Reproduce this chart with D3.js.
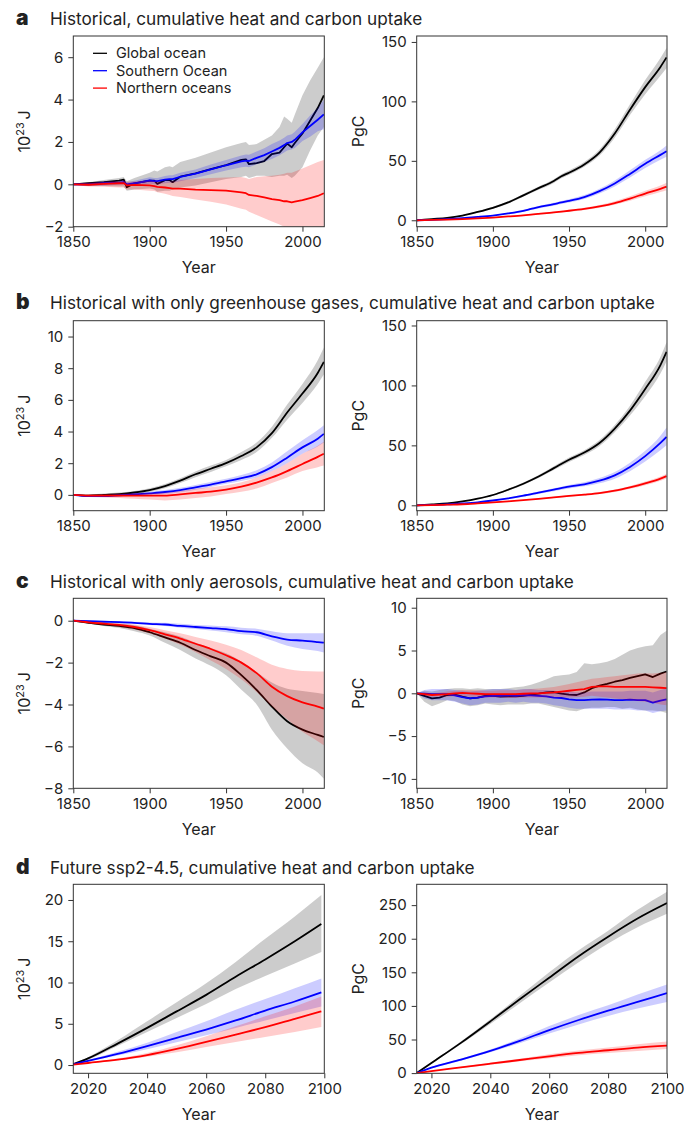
<!DOCTYPE html>
<html>
<head>
<meta charset="utf-8">
<script src="https://cdn.jsdelivr.net/npm/d3@7/dist/d3.min.js"></script>
<style>
  body { margin: 0; background: #fff; }
  svg text { font-family: Inter, "Noto Sans", sans-serif; fill: #222; }
  .tick line { stroke: #333; }
</style>
</head>
<body>
<div id="plot"></div>
<script>
// ---------------- a: historical ----------------
const aHeatYears = [1850,1860,1870,1880,1883,1885,1890,1900,1903,1905,1910,1913,1915,1920,1930,1940,1950,1960,1963,1965,1970,1975,1980,1985,1988,1990,1993,1995,2000,2005,2010,2014];
const aHeatGlobal   = [0,0.05,0.1,0.17,0.22,-0.14,0.05,0.17,0.17,0.02,0.2,0.2,0.1,0.36,0.52,0.72,0.91,1.15,1.18,0.95,1.0,1.1,1.43,1.5,1.75,1.92,1.75,1.95,2.4,3.0,3.6,4.2];
const aHeatGlobalLo = [-0.03,-0.08,-0.08,-0.1,-0.1,-0.3,-0.25,-0.2,-0.25,-0.35,-0.3,-0.3,-0.25,-0.15,-0.05,0.1,0.25,0.35,0.4,0.3,0.4,0.4,0.35,0.4,0.4,0.45,0.3,0.4,0.8,1.6,2.3,2.7];
const aHeatGlobalHi = [0.03,0.1,0.2,0.3,0.35,0.15,0.3,0.55,0.65,0.6,0.8,0.85,0.8,1.05,1.25,1.5,1.75,1.95,2.0,1.85,1.9,2.1,2.3,2.7,3.2,3.1,2.9,3.3,4.2,4.9,5.5,6.0];
const aHeatSouth    = [0,0,0.05,0.08,0.1,0,0.05,0.18,0.15,0.15,0.22,0.25,0.25,0.35,0.5,0.7,0.9,1.08,1.12,1.1,1.25,1.38,1.55,1.72,1.85,1.95,2.0,2.1,2.45,2.75,3.05,3.3];
const aHeatSouthLo  = [-0.05,-0.08,-0.05,-0.02,0,-0.1,-0.07,0.03,0,0,0.05,0.07,0.07,0.15,0.3,0.47,0.65,0.8,0.83,0.8,0.95,1.06,1.2,1.37,1.5,1.6,1.64,1.72,2.05,2.25,2.5,2.6];
const aHeatSouthHi  = [0.05,0.08,0.15,0.18,0.2,0.1,0.17,0.33,0.3,0.3,0.39,0.43,0.43,0.55,0.7,0.93,1.15,1.36,1.41,1.4,1.55,1.7,1.9,2.07,2.2,2.3,2.36,2.48,2.85,3.25,3.6,4.0];
const aHeatNorth    = [0,-0.02,0.02,0.05,0.06,-0.05,-0.03,-0.05,-0.08,-0.12,-0.15,-0.18,-0.2,-0.2,-0.25,-0.27,-0.3,-0.38,-0.42,-0.5,-0.55,-0.62,-0.7,-0.75,-0.8,-0.8,-0.85,-0.82,-0.75,-0.65,-0.55,-0.42];
const aHeatNorthLo  = [-0.03,-0.1,-0.12,-0.15,-0.15,-0.25,-0.25,-0.3,-0.32,-0.38,-0.45,-0.5,-0.55,-0.6,-0.72,-0.82,-0.95,-1.15,-1.2,-1.3,-1.45,-1.6,-1.75,-1.9,-2.0,-2.1,-2.2,-2.3,-2.4,-2.5,-2.6,-2.7];
const aHeatNorthHi  = [0.03,0.08,0.12,0.15,0.18,0.12,0.15,0.18,0.15,0.12,0.12,0.15,0.15,0.2,0.25,0.3,0.32,0.35,0.3,0.25,0.35,0.38,0.4,0.45,0.5,0.55,0.55,0.6,0.75,0.9,1.05,1.15];

const aCarbYears = [1850,1860,1870,1880,1890,1900,1910,1920,1925,1930,1940,1945,1950,1960,1970,1980,1990,2000,2010,2014];
const aCarbGlobal   = [0,1,2,4,7,10.5,15,21,24,27,33,37,40,47,57,73,93,112,129,137];
const aCarbGlobalLo = [0,0.8,1.7,3.5,6.3,9.7,14,19.8,22.7,25.6,31.4,35.3,38.2,45,54.5,69.5,88.5,106,121.5,128];
const aCarbGlobalHi = [0,1.2,2.3,4.5,7.7,11.3,16,22.2,25.3,28.4,34.6,38.7,41.8,49,59.5,76.5,97.5,118,136.5,145];
const aCarbSouth    = [0,0.4,1,1.8,2.8,4,5.8,8,9.5,11,13.5,15,16.3,19.5,24.5,31,39,47.5,55,58];
const aCarbSouthLo  = [0,0.3,0.8,1.5,2.4,3.5,5.2,7.2,8.6,10,12.3,13.7,14.9,17.8,22.5,28.5,36,44,51,53.5];
const aCarbSouthHi  = [0,0.5,1.2,2.1,3.2,4.5,6.4,8.8,10.4,12,14.7,16.3,17.7,21.2,26.5,33.5,42,51,59,63];
const aCarbNorth    = [0,0.3,0.6,1,1.6,2.3,3.2,4.2,4.8,5.4,6.6,7.3,8,9.6,11.7,14.5,18.3,22.5,26.5,28.3];
const aCarbNorthLo  = [0,0.25,0.5,0.9,1.4,2.05,2.9,3.8,4.3,4.9,6,6.6,7.2,8.6,10.5,13,16.4,20.2,23.8,25.3];
const aCarbNorthHi  = [0,0.35,0.7,1.1,1.8,2.55,3.5,4.6,5.3,5.9,7.2,8,8.8,10.6,12.9,16,20.2,24.8,29.2,31.5];

// ---------------- b: greenhouse gases only ----------------
const bYears = [1850,1860,1870,1880,1890,1900,1910,1920,1930,1940,1950,1960,1970,1980,1990,2000,2010,2014];
const bHeatGlobal   = [0,-0.05,0,0.05,0.15,0.3,0.55,0.9,1.3,1.65,2.0,2.45,3.0,3.9,5.2,6.4,7.7,8.4];
const bHeatGlobalLo = [0,-0.12,-0.1,-0.05,0.05,0.2,0.42,0.75,1.12,1.45,1.8,2.2,2.7,3.6,4.75,5.8,7.0,7.6];
const bHeatGlobalHi = [0,0.02,0.08,0.15,0.25,0.42,0.68,1.05,1.48,1.85,2.2,2.7,3.3,4.3,5.7,7.0,8.5,9.3];
const bHeatSouth    = [0,-0.08,-0.08,-0.03,0.03,0.1,0.18,0.3,0.48,0.65,0.85,1.05,1.3,1.75,2.35,3.0,3.55,3.85];
const bHeatSouthLo  = [0,-0.13,-0.15,-0.1,-0.05,0,0.06,0.16,0.33,0.5,0.7,0.88,1.1,1.5,2.0,2.6,3.05,3.3];
const bHeatSouthHi  = [0,-0.03,0,0.05,0.11,0.2,0.3,0.45,0.63,0.82,1.02,1.25,1.55,2.05,2.75,3.45,4.1,4.4];
const bHeatNorth    = [0,-0.05,-0.05,-0.05,-0.05,-0.05,-0.05,0.03,0.12,0.2,0.33,0.52,0.78,1.1,1.5,1.95,2.4,2.6];
const bHeatNorthLo  = [0,-0.12,-0.15,-0.2,-0.25,-0.3,-0.35,-0.3,-0.2,-0.1,0.05,0.2,0.4,0.75,1.1,1.5,1.75,1.85];
const bHeatNorthHi  = [0,0.02,0.05,0.08,0.1,0.12,0.15,0.25,0.38,0.48,0.6,0.8,1.1,1.5,2.0,2.6,3.1,3.35];

const bCarbGlobal   = [0,0.7,1.5,3.2,5.5,8.6,13,18,24,31,38,44,52,64,79,97,117,128];
const bCarbGlobalLo = [0,0.6,1.3,2.9,5.1,8,12.2,17,22.8,29.5,36.2,42,49.5,61,75,91,110,120];
const bCarbGlobalHi = [0,0.8,1.7,3.5,5.9,9.2,13.8,19,25.2,32.5,39.8,46,54.5,67,83,103,124,136];
const bCarbSouth    = [0,0.3,0.7,1.5,2.5,4,5.8,8,10.5,13,15.5,17.5,20.5,25,32,41,52,57];
const bCarbSouthLo  = [0,0.25,0.6,1.3,2.2,3.6,5.2,7.2,9.5,11.8,14,15.8,18.3,22.2,28.5,36.5,46,50];
const bCarbSouthHi  = [0,0.35,0.8,1.7,2.8,4.4,6.4,8.8,11.5,14.2,17,19.2,22.7,27.8,35.5,45.5,58,65];
const bCarbNorth    = [0,0.2,0.5,0.9,1.6,2.4,3.3,4.3,5.4,6.6,7.8,8.9,10.2,12.2,15,18.3,22.3,24.4];
const bCarbNorthLo  = [0,0.18,0.45,0.83,1.5,2.2,3.05,4,5,6.1,7.2,8.2,9.4,11.2,13.8,16.8,20.5,22.4];
const bCarbNorthHi  = [0,0.22,0.55,0.97,1.75,2.6,3.55,4.65,5.8,7.1,8.4,9.6,11,13.2,16.2,19.8,24.1,26.4];

// ---------------- c: aerosols only ----------------
const cHeatYears = bYears;
const cHeatGlobal   = [0,-0.1,-0.18,-0.25,-0.35,-0.55,-0.8,-1.05,-1.4,-1.7,-2.0,-2.6,-3.3,-4.1,-4.8,-5.2,-5.45,-5.55];
const cHeatGlobalLo = [0,-0.15,-0.25,-0.35,-0.5,-0.7,-1.05,-1.4,-1.8,-2.15,-2.6,-3.3,-4.0,-5.2,-6.1,-6.8,-7.25,-7.55];
const cHeatGlobalHi = [0,-0.05,-0.1,-0.15,-0.22,-0.38,-0.55,-0.75,-1.05,-1.3,-1.55,-1.95,-2.45,-2.95,-3.25,-3.35,-3.45,-3.5];
const cHeatSouth    = [0,-0.02,-0.05,-0.07,-0.1,-0.15,-0.18,-0.25,-0.3,-0.35,-0.4,-0.5,-0.55,-0.75,-0.9,-0.95,-1.02,-1.05];
const cHeatSouthLo  = [0,-0.05,-0.08,-0.12,-0.15,-0.2,-0.25,-0.33,-0.4,-0.47,-0.55,-0.65,-0.72,-0.95,-1.2,-1.35,-1.45,-1.52];
const cHeatSouthHi  = [0,0.01,-0.02,-0.03,-0.05,-0.08,-0.1,-0.15,-0.2,-0.23,-0.27,-0.33,-0.38,-0.5,-0.6,-0.6,-0.6,-0.6];
const cHeatNorth    = [0,-0.08,-0.14,-0.2,-0.3,-0.45,-0.65,-0.85,-1.1,-1.35,-1.65,-2.0,-2.5,-3.15,-3.6,-3.9,-4.1,-4.2];
const cHeatNorthLo  = [0,-0.12,-0.2,-0.3,-0.42,-0.6,-0.85,-1.15,-1.5,-1.9,-2.3,-2.8,-3.4,-4.1,-4.7,-5.3,-5.75,-5.95];
const cHeatNorthHi  = [0,-0.04,-0.08,-0.12,-0.18,-0.3,-0.45,-0.6,-0.78,-0.95,-1.15,-1.4,-1.75,-2.1,-2.3,-2.4,-2.42,-2.42];

const cCarbYears = [1850,1855,1860,1865,1870,1875,1880,1885,1890,1895,1900,1905,1910,1915,1920,1925,1930,1935,1940,1945,1950,1955,1960,1965,1970,1975,1980,1985,1990,1995,2000,2005,2010,2014];
const cCarbGlobal   = [0,-0.3,-0.6,-0.5,-0.2,-0.15,-0.4,-0.6,-0.5,-0.3,-0.3,-0.4,-0.35,-0.35,-0.3,-0.15,-0.05,0.1,0.15,-0.05,-0.15,-0.2,0.1,0.6,0.9,1.1,1.35,1.55,1.8,2.0,2.2,1.9,2.3,2.55];
const cCarbGlobalLo = [0,-1.0,-1.5,-1.2,-0.8,-0.9,-1.3,-1.5,-1.4,-1.2,-1.3,-1.4,-1.3,-1.3,-1.3,-1.2,-1.2,-1.4,-1.6,-1.8,-2.0,-2.1,-1.8,-1.7,-1.7,-1.6,-1.6,-1.8,-1.7,-1.9,-2.0,-2.0,-2.1,-2.3];
const cCarbGlobalHi = [0,0.3,0.2,0.4,0.5,0.6,0.6,0.5,0.6,0.5,0.5,0.5,0.6,0.7,0.8,1.0,1.3,1.6,2.0,2.1,2.2,2.5,3.5,3.4,3.5,3.7,4.0,4.5,5.0,5.3,5.5,5.6,6.8,7.3];
const cCarbSouth    = [0,-0.05,-0.1,-0.1,-0.1,-0.25,-0.45,-0.6,-0.5,-0.35,-0.3,-0.3,-0.25,-0.3,-0.2,-0.25,-0.3,-0.35,-0.5,-0.55,-0.7,-0.8,-0.8,-0.75,-0.7,-0.75,-0.8,-0.8,-0.75,-0.8,-0.8,-1.1,-0.85,-0.7];
const cCarbSouthLo  = [0,-0.6,-0.8,-0.8,-0.8,-1.0,-1.2,-1.4,-1.3,-1.1,-1.1,-1.1,-1.0,-1.1,-1.0,-1.1,-1.1,-1.2,-1.4,-1.5,-1.7,-1.8,-1.8,-1.8,-1.8,-1.8,-1.9,-1.9,-1.9,-2.0,-2.0,-2.3,-2.1,-2.0];
const cCarbSouthHi  = [0,0.4,0.5,0.5,0.5,0.4,0.3,0.2,0.3,0.4,0.5,0.5,0.5,0.4,0.5,0.5,0.4,0.4,0.3,0.2,0.2,0.1,0.1,0.2,0.2,0.2,0.2,0.2,0.3,0.3,0.3,0.1,0.4,0.6];
const cCarbNorth    = [0,-0.1,-0.2,-0.15,-0.1,0,0.05,0,-0.05,-0.1,-0.1,-0.1,-0.1,-0.1,-0.05,0,0,0.05,0.1,0.2,0.3,0.4,0.5,0.75,0.8,0.8,0.75,0.75,0.75,0.75,0.75,0.7,0.65,0.6];
const cCarbNorthLo  = [0,-0.3,-0.4,-0.4,-0.4,-0.35,-0.35,-0.4,-0.45,-0.5,-0.5,-0.5,-0.55,-0.55,-0.5,-0.5,-0.5,-0.5,-0.5,-0.5,-0.5,-0.45,-0.4,-0.3,-0.4,-0.5,-0.6,-0.7,-0.8,-0.9,-1.0,-1.1,-1.3,-1.4];
const cCarbNorthHi  = [0,0.1,0,0.1,0.2,0.3,0.4,0.4,0.35,0.3,0.3,0.35,0.35,0.4,0.45,0.5,0.55,0.65,0.75,0.9,1.1,1.3,1.5,1.7,1.8,1.9,2.0,2.1,2.2,2.3,2.35,2.3,2.4,2.5];

// ---------------- d: future ssp2-4.5 ----------------
const dHeatYears = [2015,2020,2030,2040,2050,2060,2070,2080,2090,2099];
const dHeatGlobal   = [0.1,0.8,2.6,4.5,6.5,8.5,10.7,12.8,15.0,17.1];
const dHeatGlobalLo = [0.1,0.65,2.3,4.0,5.7,7.4,9.2,10.8,12.3,13.7];
const dHeatGlobalHi = [0.1,0.95,3.0,5.3,7.6,9.9,12.5,15.3,18.0,20.6];
const dHeatSouth    = [0.1,0.5,1.35,2.3,3.3,4.3,5.4,6.6,7.7,8.8];
const dHeatSouthLo  = [0.1,0.45,1.15,1.9,2.75,3.6,4.5,5.4,6.3,7.1];
const dHeatSouthHi  = [0.1,0.6,1.6,2.7,4.0,5.3,6.7,8.0,9.3,10.5];
const dHeatNorth    = [0.05,0.25,0.65,1.2,1.95,2.8,3.7,4.6,5.6,6.5];
const dHeatNorthLo  = [0.05,0.2,0.55,1.0,1.55,2.2,2.8,3.4,4.0,4.6];
const dHeatNorthHi  = [0.05,0.3,0.8,1.45,2.4,3.5,4.7,5.9,7.1,8.3];

const dCarbYears = [2015,2020,2030,2040,2050,2060,2070,2080,2090,2100];
const dCarbGlobal   = [0,15,45,77,110,142,174,203,230,253];
const dCarbGlobalLo = [0,14,43,73,104,135,165,193,217,237];
const dCarbGlobalHi = [0,16,47,80,115,150,183,212,243,270];
const dCarbSouth    = [0,8,20,33,48,64,79,93,106,119];
const dCarbSouthLo  = [0,7,18.5,31,44.5,59,72.5,85,96,106];
const dCarbSouthHi  = [0,9,21.5,35,51.5,70,86.5,101,117,132];
const dCarbNorth    = [0,3,8.5,14,19.5,25,30,34,38,41];
const dCarbNorthLo  = [0,2.5,7.5,12.5,17.5,22,26.5,30,33,36];
const dCarbNorthHi  = [0,3.5,9.5,15.5,21.5,28,33.5,38,43,47];

// ---------------- labels / ticks ----------------
const seriesNames = ["Global ocean", "Southern Ocean", "Northern oceans"];
const seriesColors = ["#000000", "#0000ff", "#ff0000"];
const rowLetters = ["a", "b", "c", "d"];
const rowTitles = [
  "Historical, cumulative heat and carbon uptake",
  "Historical with only greenhouse gases, cumulative heat and carbon uptake",
  "Historical with only aerosols, cumulative heat and carbon uptake",
  "Future ssp2-4.5, cumulative heat and carbon uptake"
];
const histYearTicks = [1850, 1900, 1950, 2000];
const futYearTicks = [2020, 2040, 2060, 2080, 2100];

const w = 698;
const h = 1124;
const colX = [[73.3, 324.3], [416.7, 667]];
const rowY = [[36, 226.7], [320.7, 510.7], [598.3, 788.3], [884.3, 1073.3]];
const titleY = [25, 309, 588, 874];

function pack(years, m0, l0, h0, m1, l1, h1, m2, l2, h2) {
  return [[m0, l0, h0], [m1, l1, h1], [m2, l2, h2]].map((s, i) => ({
    color: seriesColors[i],
    rows: years.map((yr, j) => ({ yr: yr, v: s[0][j], lo: s[1][j], hi: s[2][j] }))
  }));
}

const panels = [
  { row: 0, col: 0, xDom: [1850, 2014.3], yDom: [-2, 7], yTicks: [-2, 0, 2, 4, 6], heat: true, legend: true, jagged: true,
    series: pack(aHeatYears, aHeatGlobal, aHeatGlobalLo, aHeatGlobalHi, aHeatSouth, aHeatSouthLo, aHeatSouthHi, aHeatNorth, aHeatNorthLo, aHeatNorthHi) },
  { row: 0, col: 1, xDom: [1850, 2014.3], yDom: [-5.4, 155], yTicks: [0, 50, 100, 150],
    series: pack(aCarbYears, aCarbGlobal, aCarbGlobalLo, aCarbGlobalHi, aCarbSouth, aCarbSouthLo, aCarbSouthHi, aCarbNorth, aCarbNorthLo, aCarbNorthHi) },
  { row: 1, col: 0, xDom: [1850, 2014.3], yDom: [-1, 11], yTicks: [0, 2, 4, 6, 8, 10], heat: true,
    series: pack(bYears, bHeatGlobal, bHeatGlobalLo, bHeatGlobalHi, bHeatSouth, bHeatSouthLo, bHeatSouthHi, bHeatNorth, bHeatNorthLo, bHeatNorthHi) },
  { row: 1, col: 1, xDom: [1850, 2014.3], yDom: [-4.5, 154], yTicks: [0, 50, 100, 150],
    series: pack(bYears, bCarbGlobal, bCarbGlobalLo, bCarbGlobalHi, bCarbSouth, bCarbSouthLo, bCarbSouthHi, bCarbNorth, bCarbNorthLo, bCarbNorthHi) },
  { row: 2, col: 0, xDom: [1850, 2014.3], yDom: [-8, 1.07], yTicks: [-8, -6, -4, -2, 0], heat: true,
    series: pack(cHeatYears, cHeatGlobal, cHeatGlobalLo, cHeatGlobalHi, cHeatSouth, cHeatSouthLo, cHeatSouthHi, cHeatNorth, cHeatNorthLo, cHeatNorthHi) },
  { row: 2, col: 1, xDom: [1850, 2014.3], yDom: [-11.1, 11.1], yTicks: [-10, -5, 0, 5, 10], jagged: true,
    series: pack(cCarbYears, cCarbGlobal, cCarbGlobalLo, cCarbGlobalHi, cCarbSouth, cCarbSouthLo, cCarbSouthHi, cCarbNorth, cCarbNorthLo, cCarbNorthHi) },
  { row: 3, col: 0, xDom: [2015, 2100], yDom: [-1, 21.9], yTicks: [0, 5, 10, 15, 20], heat: true, future: true,
    series: pack(dHeatYears, dHeatGlobal, dHeatGlobalLo, dHeatGlobalHi, dHeatSouth, dHeatSouthLo, dHeatSouthHi, dHeatNorth, dHeatNorthLo, dHeatNorthHi) },
  { row: 3, col: 1, xDom: [2015, 2100], yDom: [-0.3, 281], yTicks: [0, 50, 100, 150, 200, 250], future: true,
    series: pack(dCarbYears, dCarbGlobal, dCarbGlobalLo, dCarbGlobalHi, dCarbSouth, dCarbSouthLo, dCarbSouthHi, dCarbNorth, dCarbNorthLo, dCarbNorthHi) }
];

const svg = d3.select("#plot")
  .append("svg")
  .attr("width", w)
  .attr("height", h);

const minus = d => d < 0 ? "\u2212" + Math.abs(d) : String(d);

// row titles
rowTitles.forEach((t, i) => {
  svg.append("text")
    .attr("x", 16).attr("y", titleY[i])
    .attr("font-size", 21).attr("font-weight", 900)
    .text(rowLetters[i]);
  svg.append("text")
    .attr("x", 50).attr("y", titleY[i])
    .attr("font-size", 17.2)
    .text(t);
});

panels.forEach((p, k) => constructPanel(p, k));

function constructPanel(p, k) {
  const [x0, x1] = colX[p.col];
  const [y0, y1] = rowY[p.row];

  const xScale = d3.scaleLinear().domain(p.xDom).range([x0, x1]);
  const yScale = d3.scaleLinear().domain(p.yDom).range([y1, y0]);

  svg.append("clipPath").attr("id", "clip" + k)
    .append("rect")
      .attr("x", x0).attr("y", y0)
      .attr("width", x1 - x0).attr("height", y1 - y0);

  const g = svg.append("g").attr("clip-path", "url(#clip" + k + ")");

  const curve = p.jagged ? d3.curveLinear : d3.curveMonotoneX;
  const area = d3.area()
    .curve(curve)
    .x(d => xScale(d.yr))
    .y0(d => yScale(d.lo))
    .y1(d => yScale(d.hi));
  const line = d3.line()
    .curve(curve)
    .x(d => xScale(d.yr))
    .y(d => yScale(d.v));

  // band then line, series by series (later bands tint earlier lines)
  p.series.forEach(s => {
    g.append("path")
      .attr("d", area(s.rows))
      .attr("fill", s.color)
      .attr("fill-opacity", 0.2)
      .attr("stroke", "none");
    g.append("path")
      .attr("d", line(s.rows))
      .attr("fill", "none")
      .attr("stroke", s.color)
      .attr("stroke-width", 1.8)
      .attr("stroke-linejoin", "round");
  });

  const xAxis = d3.axisBottom(xScale)
    .tickValues(p.future ? futYearTicks : histYearTicks)
    .tickFormat(d3.format("d"))
    .tickSize(5).tickPadding(5);
  const yAxis = d3.axisLeft(yScale)
    .tickValues(p.yTicks)
    .tickFormat(minus)
    .tickSize(5).tickPadding(5);

  const gx = svg.append("g")
    .attr("transform", "translate(0," + y1 + ")")
    .call(xAxis);
  const gy = svg.append("g")
    .attr("transform", "translate(" + x0 + ",0)")
    .call(yAxis);
  [gx, gy].forEach(a => {
    a.select(".domain").remove();
    a.selectAll("text").attr("font-size", 15).attr("font-family", null).style("fill", "#222");
  });

  svg.append("rect")
    .attr("x", x0).attr("y", y0)
    .attr("width", x1 - x0).attr("height", y1 - y0)
    .attr("fill", "none")
    .attr("stroke", "#333")
    .attr("stroke-width", 1);

  svg.append("text")
    .attr("x", (x0 + x1) / 2)
    .attr("y", y1 + 46.5)
    .attr("text-anchor", "middle")
    .attr("font-size", 16)
    .text("Year");

  const ylab = svg.append("text")
    .attr("transform", "translate(" + (p.col === 0 ? 30 : 364) + "," + ((y0 + y1) / 2) + ") rotate(-90)")
    .attr("text-anchor", "middle")
    .attr("font-size", 16);
  if (p.heat) {
    ylab.append("tspan").text("10");
    ylab.append("tspan").attr("dy", -6).attr("font-size", 11).text("23");
    ylab.append("tspan").attr("dy", 6).text("\u2009J");
  } else {
    ylab.text("PgC");
  }

  if (p.legend) {
    const lg = svg.append("g");
    seriesNames.forEach((name, i) => {
      const yy = 53.3 + i * 17.4;
      lg.append("line")
        .attr("x1", 93).attr("x2", 107)
        .attr("y1", yy).attr("y2", yy)
        .attr("stroke", seriesColors[i])
        .attr("stroke-width", 1.3);
      lg.append("text")
        .attr("x", 116).attr("y", yy)
        .attr("dy", "0.35em")
        .attr("font-size", 14.5)
        .text(name);
    });
  }
}
</script>
</body>
</html>
